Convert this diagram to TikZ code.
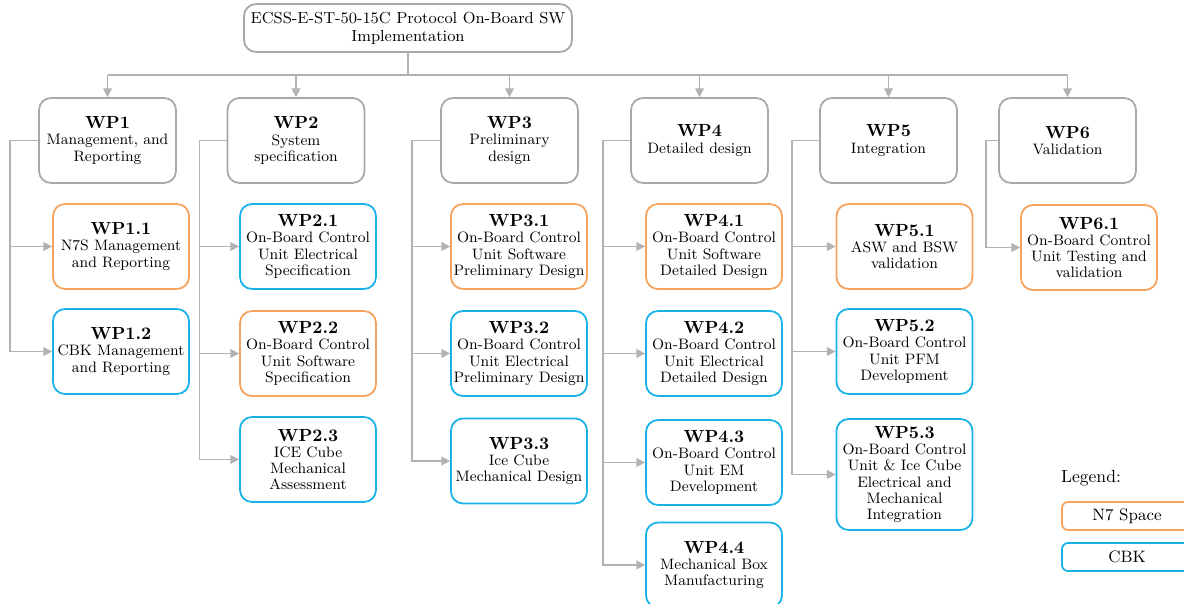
\documentclass[tikz,border=0pt]{standalone}
\usetikzlibrary{arrows.meta, positioning}
\definecolor{boxgray}{RGB}{168,168,168}
\definecolor{nsorange}{RGB}{245,162,92}
\definecolor{cbkblue}{RGB}{22,178,232}
\definecolor{linegray}{RGB}{178,178,178}
\newcommand{\wpt}[1]{{\fontsize{10}{11}\selectfont\bfseries #1}}

\begin{document}
\begin{tikzpicture}[x=0.02cm,y=-0.02cm,
    every node/.style={align=center, font=\fontsize{8.6}{9.2}\selectfont},
    wpbox/.style={rectangle,rounded corners=0.24cm,draw=boxgray,line width=1pt,inner xsep=1pt,minimum width=2.74cm,minimum height=1.7cm},
    nsbox/.style={wpbox,draw=nsorange,minimum width=2.72cm},
    cbkbox/.style={wpbox,draw=cbkblue,minimum width=2.72cm},
    conn/.style={draw=linegray,line width=0.8pt},
    arr/.style={conn,-{Triangle[length=5pt,width=5pt]},linegray}]
    \useasboundingbox (0,0) rectangle (1184,604);
    % 顶层框
    \node[wpbox,minimum width=6.56cm,minimum height=0.96cm,font=\fontsize{9.1}{10.2}\selectfont] (top) at (408,28)
        {ECSS-E-ST-50-15C Protocol On-Board SW\\Implementation};
    % 六个工作包
    \node[wpbox] (wp1) at (107.5,140.5) {\wpt{WP1}\\Management, and\\Reporting};
    \node[wpbox] (wp2) at (296,140.5) {\wpt{WP2}\\System\\specification};
    \node[wpbox] (wp3) at (509.5,140.5) {\wpt{WP3}\\Preliminary\\design};
    \node[wpbox] (wp4) at (699.5,140.5) {\wpt{WP4}\\Detailed design};
    \node[wpbox] (wp5) at (888.5,140.5) {\wpt{WP5}\\Integration};
    \node[wpbox] (wp6) at (1067.5,140.5) {\wpt{WP6}\\Validation};
    % 总线和向下箭头
    \coordinate (bus) at (408,75);
    \draw[conn] (top.south) -- (bus);
    \draw[conn] (bus -| wp1.north) -- (bus -| wp6.north);
    \foreach \i in {1,...,6} {
        \draw[arr] (bus -| wp\i.north) -- (wp\i.north);
    }
    % 子工作包
    \node[nsbox] (wp11) at (121,246.5) {\wpt{WP1.1}\\N7S Management\\and Reporting};
    \node[cbkbox] (wp12) at (121,351.5) {\wpt{WP1.2}\\CBK Management\\and Reporting};
    \node[cbkbox] (wp21) at (308,246.5) {\wpt{WP2.1}\\On-Board Control\\Unit Electrical\\Specification};
    \node[nsbox] (wp22) at (308,353.5) {\wpt{WP2.2}\\On-Board Control\\Unit Software\\Specification};
    \node[cbkbox] (wp23) at (308,459.5) {\wpt{WP2.3}\\ICE Cube\\Mechanical\\Assessment};
    \node[nsbox] (wp31) at (519,246.5) {\wpt{WP3.1}\\On-Board Control\\Unit Software\\Preliminary Design};
    \node[cbkbox] (wp32) at (519,353.5) {\wpt{WP3.2}\\On-Board Control\\Unit Electrical\\Preliminary Design};
    \node[cbkbox] (wp33) at (519,461) {\wpt{WP3.3}\\Ice Cube\\Mechanical Design};
    \node[nsbox] (wp41) at (714,246.5) {\wpt{WP4.1}\\On-Board Control\\Unit Software\\Detailed Design};
    \node[cbkbox] (wp42) at (714,353.5) {\wpt{WP4.2}\\On-Board Control\\Unit Electrical\\Detailed Design};
    \node[cbkbox] (wp43) at (714,462.5) {\wpt{WP4.3}\\On-Board Control\\Unit EM\\Development};
    \node[cbkbox] (wp44) at (714,565) {\wpt{WP4.4}\\Mechanical Box\\Manufacturing};
    \node[nsbox] (wp51) at (904.5,246.5) {\wpt{WP5.1}\\ASW and BSW\\validation};
    \node[cbkbox] (wp52) at (904.5,351.5) {\wpt{WP5.2}\\On-Board Control\\Unit PFM\\Development};
    \node[cbkbox,minimum height=2.22cm] (wp53) at (904.5,474.5) {\wpt{WP5.3}\\On-Board Control\\Unit \& Ice Cube\\Electrical and\\Mechanical\\Integration};
    \node[nsbox] (wp61) at (1089,247.5) {\wpt{WP6.1}\\On-Board Control\\Unit Testing and\\validation};
    % 左侧连线
    \foreach \p/\d/\subs in {1/28/{1,2}, 2/27/{1,2,3}, 3/28/{1,2,3}, 4/27/{1,2,3,4}, 5/27/{1,2,3}, 6/12/{1}} {
        \foreach \s in \subs {
            \draw[arr] (wp\p.west) -- ++(-\d,0) |- (wp\p\s.west);
        }
    }
    % 图例
    \node (legend) at (1091,478) {\fontsize{10}{11}\selectfont Legend:};
    \node[nsbox,minimum width=2.6cm,minimum height=0.56cm,rounded corners=0.12cm,font=\fontsize{9.4}{10}\selectfont] (lgns) at (1127,516) {N7 Space};
    \node[cbkbox,minimum width=2.6cm,minimum height=0.56cm,rounded corners=0.12cm,font=\fontsize{9.4}{10}\selectfont] (lgcbk) at (1127,557) {CBK};
\end{tikzpicture}
\end{document}
